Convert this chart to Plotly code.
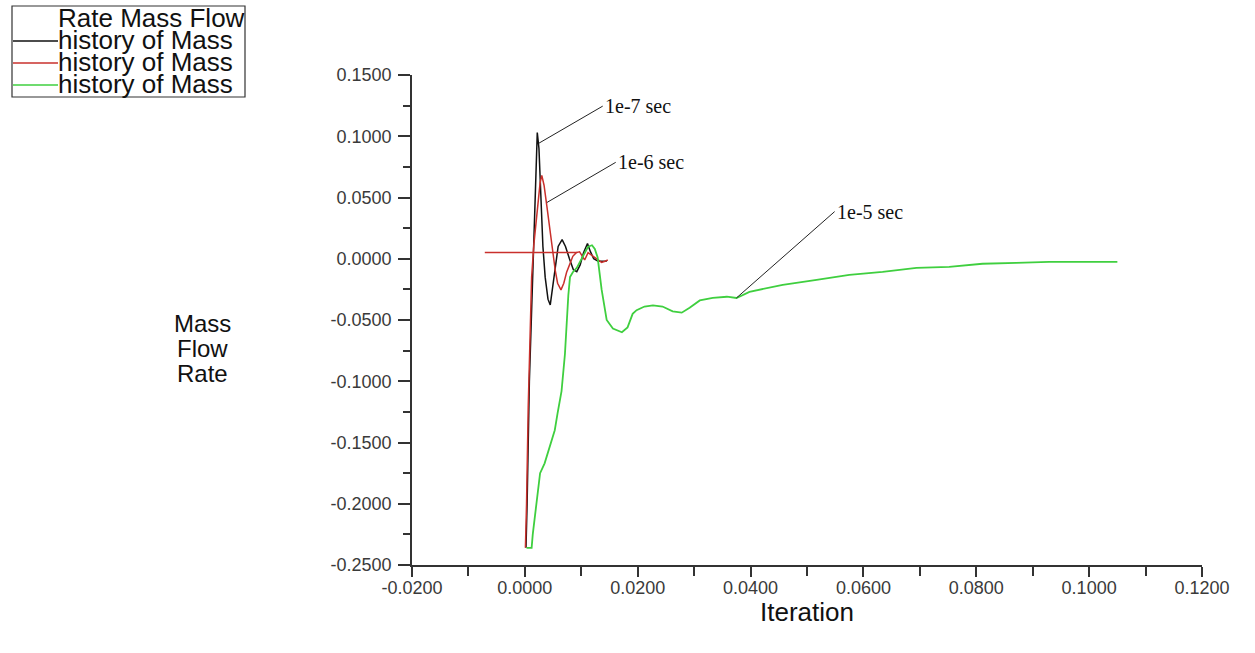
import plotly.graph_objects as go

# Mass flow rate history for three time-step sizes
black_x = [0.0002, 0.0004, 0.0008, 0.0012, 0.0016, 0.0019, 0.0022, 0.0025, 0.0028,
           0.0032, 0.0036, 0.0041, 0.0045, 0.0049, 0.0054, 0.0059, 0.0066, 0.0072,
           0.0079, 0.0086, 0.0092, 0.0098, 0.0104, 0.0111, 0.0116, 0.0122, 0.0130,
           0.0138, 0.0145]
black_y = [-0.236, -0.200, -0.100, -0.040, 0.010, 0.060, 0.103, 0.090, 0.050,
           0.010, -0.015, -0.033, -0.0377, -0.025, -0.005, 0.010, 0.0156, 0.010,
           0.000, -0.009, -0.0105, -0.005, 0.005, 0.0125, 0.006, 0.000, -0.002,
           -0.002, -0.002]

red_x = [0.0001, 0.0003, 0.0006, 0.0009, 0.0012, 0.0016, 0.0022, 0.0027, 0.0030,
         0.0034, 0.0039, 0.0044, 0.0049, 0.0054, 0.0058, 0.0064, 0.0069, 0.0074,
         0.0080, 0.0085, 0.0091, 0.0097, 0.0102, 0.0106, 0.0112, 0.0118, 0.0124,
         0.0130, 0.0136, 0.0142, 0.0147]
red_y = [-0.236, -0.200, -0.120, -0.060, -0.015, 0.012, 0.042, 0.062, 0.068,
         0.060, 0.043, 0.024, 0.005, -0.010, -0.020, -0.0254, -0.020, -0.011,
         -0.004, 0.002, 0.005, 0.0057, 0.002, -0.001, 0.005, 0.003, 0.001,
         -0.001, -0.003, -0.002, -0.001]

# horizontal red reference segment
red_seg_x = [-0.0071, 0.0093]
red_seg_y = [0.0052, 0.0052]

green_x = [0.0003, 0.0012, 0.0014, 0.0021, 0.0027, 0.0035, 0.0044, 0.0053, 0.0058,
           0.0065, 0.0071, 0.0074, 0.0077, 0.0080, 0.0085, 0.0092, 0.0097, 0.0103,
           0.0112, 0.0119, 0.0124, 0.0129, 0.0136, 0.0145, 0.0156, 0.0172, 0.0182,
           0.0191, 0.0198, 0.0212, 0.0227, 0.0244, 0.0262, 0.0278, 0.0292, 0.0310,
           0.0333, 0.0358, 0.0375, 0.0398, 0.0457, 0.0517, 0.0575, 0.0634, 0.0694,
           0.0752, 0.0811, 0.0871, 0.0929, 0.0988, 0.1050]
green_y = [-0.236, -0.236, -0.225, -0.198, -0.175, -0.167, -0.154, -0.140, -0.126,
           -0.108, -0.078, -0.050, -0.030, -0.015, -0.011, -0.0074, -0.003, 0.0016,
           0.0098, 0.011, 0.008, 0.001, -0.025, -0.050, -0.057, -0.060, -0.056,
           -0.045, -0.042, -0.039, -0.038, -0.039, -0.043, -0.044, -0.040, -0.034,
           -0.032, -0.031, -0.032, -0.027, -0.0213, -0.0172, -0.0131, -0.0107, -0.0074,
           -0.0066, -0.0041, -0.0033, -0.0025, -0.0025, -0.0025]

x_ticks = [-0.02, 0.0, 0.02, 0.04, 0.06, 0.08, 0.10, 0.12]
x_tick_labels = ["-0.0200", "0.0000", "0.0200", "0.0400", "0.0600", "0.0800", "0.1000", "0.1200"]
y_ticks = [-0.25, -0.20, -0.15, -0.10, -0.05, 0.0, 0.05, 0.10, 0.15]
y_tick_labels = ["-0.2500", "-0.2000", "-0.1500", "-0.1000", "-0.0500", "0.0000",
                 "0.0500", "0.1000", "0.1500"]

legend_title = "Rate Mass Flow"
legend_labels = ["history of Mass", "history of Mass", "history of Mass"]
step_labels = ["1e-7 sec", "1e-6 sec", "1e-5 sec"]
y_title_words = ["Mass", "Flow", "Rate"]

BLACK = "#111111"
RED = "#c9302c"
GREEN = "#3fcf3f"

W, H = 1255, 653
ML, MR, MT, MB = 412, 53, 75, 88
PW, PH = W - ML - MR, H - MT - MB


def px(x):
    return (x - ML) / PW


def py(y):
    return (MT + PH - y) / PH


fig = go.Figure()
fig.add_trace(go.Scatter(x=black_x, y=black_y, mode="lines",
                         line=dict(color=BLACK, width=1.5), showlegend=False))
fig.add_trace(go.Scatter(x=red_x, y=red_y, mode="lines",
                         line=dict(color=RED, width=1.5), showlegend=False))
fig.add_trace(go.Scatter(x=red_seg_x, y=red_seg_y, mode="lines",
                         line=dict(color=RED, width=1.5), showlegend=False))
fig.add_trace(go.Scatter(x=green_x, y=green_y, mode="lines",
                         line=dict(color=GREEN, width=1.8), showlegend=False))

shapes = []
annotations = []

# leader lines from curves to the time-step labels
leaders = [
    ((0.00248, 0.0943), (0.0138, 0.1246)),
    ((0.0039, 0.0459), (0.0161, 0.0787)),
    ((0.0375, -0.032), (0.0549, 0.0385)),
]
for (x0, y0), (x1, y1) in leaders:
    shapes.append(dict(type="line", xref="x", yref="y", x0=x0, y0=y0, x1=x1, y1=y1,
                       line=dict(color="#222222", width=1)))
for ((_, _), (x1, y1)), txt in zip(leaders, step_labels):
    annotations.append(dict(x=x1, y=y1, xref="x", yref="y", text=txt, showarrow=False,
                            xanchor="left", yanchor="middle",
                            font=dict(family="Liberation Serif", size=20, color="#111111")))

# legend box
shapes.append(dict(type="rect", xref="paper", yref="paper",
                   x0=px(12), x1=px(245), y0=py(97), y1=py(6),
                   line=dict(color="#333333", width=1.2), fillcolor="rgba(0,0,0,0)"))
annotations.append(dict(x=px(56), y=py(18), xref="paper", yref="paper", text=legend_title,
                        showarrow=False, xanchor="left", yanchor="middle",
                        font=dict(family="Liberation Sans", size=26, color="#111111")))
legend_rows = [(BLACK, 41, 40), (RED, 63, 62), (GREEN, 85, 84)]
for (col, ly, ty), txt in zip(legend_rows, legend_labels):
    shapes.append(dict(type="line", xref="paper", yref="paper",
                       x0=px(13), x1=px(58), y0=py(ly), y1=py(ly),
                       line=dict(color=col, width=1.5)))
    annotations.append(dict(x=px(56), y=py(ty), xref="paper", yref="paper", text=txt,
                            showarrow=False, xanchor="left", yanchor="middle",
                            font=dict(family="Liberation Sans", size=26, color="#111111")))

# axis titles
annotations.append(dict(x=px(807), y=py(612), xref="paper", yref="paper", text="Iteration",
                        showarrow=False, xanchor="center", yanchor="middle",
                        font=dict(family="Liberation Sans", size=26, color="#111111")))
for word, cy in zip(y_title_words, [323, 348, 373]):
    annotations.append(dict(x=px(202), y=py(cy), xref="paper", yref="paper", text=word,
                            showarrow=False, xanchor="center", yanchor="middle",
                            font=dict(family="Liberation Sans", size=24, color="#111111")))

axis_common = dict(showgrid=False, zeroline=False, showline=True, linecolor="#333333",
                   linewidth=1.5, ticks="outside", tickcolor="#333333", tickwidth=1.5,
                   tickfont=dict(family="Liberation Sans", size=18, color="#3a3a3a"))

fig.update_layout(
    width=W, height=H, autosize=False,
    margin=dict(l=ML, r=MR, t=MT, b=MB, pad=0),
    paper_bgcolor="white", plot_bgcolor="white",
    showlegend=False,
    xaxis=dict(range=[-0.02, 0.12], tickvals=x_ticks, ticktext=x_tick_labels,
               ticklen=10, ticklabelstandoff=-4,
               minor=dict(tick0=0, dtick=0.01, ticks="outside", ticklen=9,
                          tickcolor="#333333", tickwidth=1.5),
               **axis_common),
    yaxis=dict(range=[-0.25, 0.15], tickvals=y_ticks, ticktext=y_tick_labels,
               ticklen=12, ticklabelstandoff=3,
               minor=dict(tick0=0, dtick=0.025, ticks="outside", ticklen=7,
                          tickcolor="#333333", tickwidth=1.5),
               **axis_common),
    shapes=shapes,
    annotations=annotations,
)

fig.write_html("out.html")
